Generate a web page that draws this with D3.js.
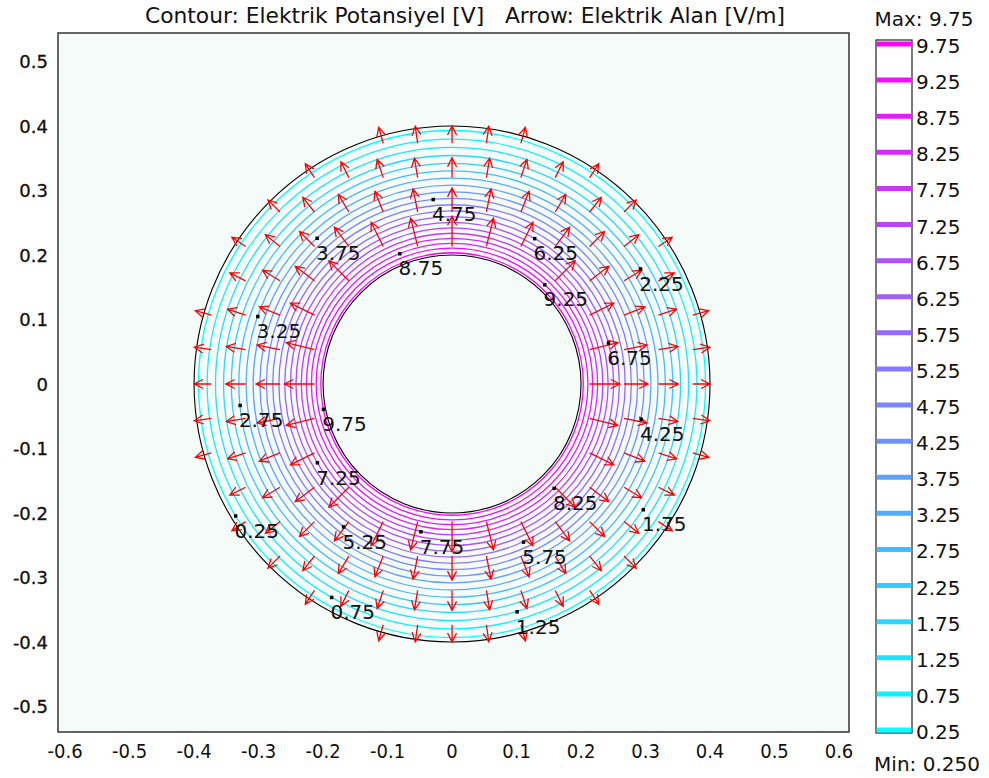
<!DOCTYPE html>
<html>
<head>
<meta charset="utf-8">
<script src="https://cdn.jsdelivr.net/npm/d3@7"></script>
<style>
  body { margin: 0; background: #fff; }
  text { fill: #111; }
</style>
</head>
<body>
<script>
// contour levels of the potential [V] and the radius each ring sits at
const levels = [0.25, 0.75, 1.25, 1.75, 2.25, 2.75, 3.25, 3.75, 4.25, 4.75,
                5.25, 5.75, 6.25, 6.75, 7.25, 7.75, 8.25, 8.75, 9.25, 9.75];
const radii = [0.3931, 0.3797, 0.3668, 0.3543, 0.3422, 0.3306, 0.3193, 0.3084, 0.2979, 0.2878,
               0.2780, 0.2685, 0.2594, 0.2505, 0.2420, 0.2338, 0.2258, 0.2181, 0.2107, 0.2035];
// where the inline label of each level sits (angle in degrees)
const labelAngles = [211.3, 240.5, 285.9, 326.7, 31.5, 185.7, 160.8, 132.8, 349.5, 95.9,
                     232.7, 294.3, 60.5, 14.8, 210.2, 258.0, 314.4, 111.9, 47.1, 191.0];
// geometry boundaries
const innerR = 0.2, outerR = 0.4;
// arrow sample positions (same in x and y)
const arrowGrid = [-0.3733, -0.32, -0.2667, -0.2133, -0.16, -0.1067, -0.0533, 0,
                   0.0533, 0.1067, 0.16, 0.2133, 0.2667, 0.32, 0.3733];
const xTicks = [-0.6, -0.5, -0.4, -0.3, -0.2, -0.1, 0, 0.1, 0.2, 0.3, 0.4, 0.5, 0.6];
const yTicks = [0.5, 0.4, 0.3, 0.2, 0.1, 0, -0.1, -0.2, -0.3, -0.4, -0.5];

const W = 989, H = 778;
const plot = {left: 58, right: 849, top: 33, bottom: 732};

const svg = d3.select('body').append('svg')
  .attr('width', W).attr('height', H);

const x = d3.scaleLinear().domain([-0.611, 0.6155]).range([plot.left, plot.right]);
const y = d3.scaleLinear().domain([-0.5395, 0.5442]).range([plot.bottom, plot.top]);
const k = x(1) - x(0); // px per unit

// cyan -> magenta ("cool")
const color = v => {
  const t = (v - levels[0]) / (levels[levels.length - 1] - levels[0]);
  return d3.rgb(255 * t, 255 * (1 - t), 255).toString();
};
const num = d => String(d); // plain hyphen minus like the original

// title
svg.append('text')
  .attr('x', 465).attr('y', 23)
  .attr('text-anchor', 'middle')
  .attr('textLength', 640)
  .attr('lengthAdjust', 'spacingAndGlyphs')
  .attr('xml:space', 'preserve')
  .style('font-family', 'DejaVu Sans Condensed')
  .style('font-size', '21px')
  .text('Contour: Elektrik Potansiyel [V]   Arrow: Elektrik Alan [V/m]');

svg.append('clipPath').attr('id', 'clip')
  .append('rect')
  .attr('x', plot.left).attr('y', plot.top)
  .attr('width', plot.right - plot.left).attr('height', plot.bottom - plot.top);

svg.append('rect')
  .attr('x', plot.left).attr('y', plot.top)
  .attr('width', plot.right - plot.left).attr('height', plot.bottom - plot.top)
  .attr('fill', '#f5fbf8');

let g = svg.append('g').attr('clip-path', 'url(#clip)');

// contour rings
g.selectAll('circle.contour')
  .data(levels)
  .enter()
    .append('circle')
    .attr('class', 'contour')
    .attr('cx', x(0)).attr('cy', y(0))
    .attr('r', (d, i) => radii[i] * k)
    .attr('fill', 'none')
    .attr('stroke', d => color(d))
    .attr('stroke-width', 1.3);

// boundaries
g.selectAll('circle.bound')
  .data([innerR, outerR])
  .enter()
    .append('circle')
    .attr('class', 'bound')
    .attr('cx', x(0)).attr('cy', y(0))
    .attr('r', d => d * k)
    .attr('fill', 'none')
    .attr('stroke', '#000')
    .attr('stroke-width', 1.1);

// field from the contour spacing
const vOfR = d3.scaleLinear().domain(radii).range(levels);
function fieldAt(r) {
  const h = 0.004;
  return (vOfR(r - h) - vOfR(r + h)) / (2 * h);
}

let pts = [];
arrowGrid.forEach(px => {
  arrowGrid.forEach(py => {
    let r = Math.hypot(px, py);
    if (r >= innerR && r <= outerR) pts.push({px, py, r});
  });
});

const arrowScale = 0.444; // px per V/m
const head = 9, headW = 4.5;
let arrows = g.append('g').attr('stroke', '#ff0000').attr('stroke-width', 1.3).attr('fill', 'none');
pts.forEach(p => {
  let e = fieldAt(p.r);
  let len = e * arrowScale;
  let ux = p.px / p.r, uy = -p.py / p.r; // screen direction
  let x0 = x(p.px), y0 = y(p.py);
  let x1 = x0 + ux * len, y1 = y0 + uy * len;
  let bx = x1 - ux * head, by = y1 - uy * head;
  let path = `M${x0},${y0}L${x1},${y1}` +
    `M${bx - uy * headW},${by + ux * headW}L${x1},${y1}L${bx + uy * headW},${by - ux * headW}`;
  arrows.append('path').attr('d', path);
});

// contour labels
let labs = g.selectAll('g.lab')
  .data(levels)
  .enter()
    .append('g')
    .attr('class', 'lab')
    .attr('transform', (d, i) => {
      let a = labelAngles[i] * Math.PI / 180;
      return `translate(${x(radii[i] * Math.cos(a))},${y(radii[i] * Math.sin(a))})`;
    });
labs.append('rect')
  .attr('x', -1.5).attr('y', -1.5).attr('width', 3.5).attr('height', 3.5)
  .attr('fill', '#000');
labs.append('text')
  .attr('x', -1).attr('y', 22)
  .style('font-family', 'DejaVu Sans')
  .style('font-size', '20px')
  .text(d => d3.format('.2f')(d));

// plot frame
svg.append('rect')
  .attr('x', plot.left).attr('y', plot.top)
  .attr('width', plot.right - plot.left).attr('height', plot.bottom - plot.top)
  .attr('fill', 'none').attr('stroke', '#333').attr('stroke-width', 1.5);

// axis labels
svg.selectAll('text.yt')
  .data(yTicks)
  .enter()
    .append('text')
    .attr('class', 'yt')
    .attr('x', 48).attr('y', d => y(d) + 6.5)
    .attr('text-anchor', 'end')
    .style('font-family', 'DejaVu Sans')
    .style('font-size', '18px')
    .style('stroke', '#111').style('stroke-width', 0.3)
    .text(num);

svg.selectAll('text.xt')
  .data(xTicks)
  .enter()
    .append('text')
    .attr('class', 'xt')
    .attr('x', d => x(d)).attr('y', 758)
    .attr('text-anchor', 'middle')
    .style('font-family', 'DejaVu Sans Condensed')
    .style('font-size', '20px')
    .text(num);

// colour legend
const cb = {left: 876, right: 912, top: 40, bottom: 733};
const cbY = d3.scaleLinear().domain([levels[0], levels[levels.length - 1]]).range([730, 44]);

svg.append('rect')
  .attr('x', cb.left).attr('y', cb.top)
  .attr('width', cb.right - cb.left).attr('height', cb.bottom - cb.top)
  .attr('fill', '#fff').attr('stroke', '#222').attr('stroke-width', 1.2);

svg.selectAll('line.cb')
  .data(levels)
  .enter()
    .append('line')
    .attr('class', 'cb')
    .attr('x1', cb.left + 0.6).attr('x2', cb.right - 0.6)
    .attr('y1', d => cbY(d)).attr('y2', d => cbY(d))
    .attr('stroke', d => color(d))
    .attr('stroke-width', 5);

svg.selectAll('text.cb')
  .data(levels)
  .enter()
    .append('text')
    .attr('class', 'cb')
    .attr('x', 916).attr('y', d => cbY(d) + 9)
    .style('font-family', 'DejaVu Sans')
    .style('font-size', '20px')
    .text(d => d3.format('.2f')(d));

svg.append('text')
  .attr('x', 924).attr('y', 26)
  .attr('text-anchor', 'middle')
  .style('font-family', 'DejaVu Sans')
  .style('font-size', '20px')
  .text('Max: ' + d3.format('.2f')(levels[levels.length - 1]));

svg.append('text')
  .attr('x', 927).attr('y', 771)
  .attr('text-anchor', 'middle')
  .style('font-family', 'DejaVu Sans')
  .style('font-size', '20px')
  .text('Min: ' + d3.format('.3f')(levels[0]));
</script>
</body>
</html>
